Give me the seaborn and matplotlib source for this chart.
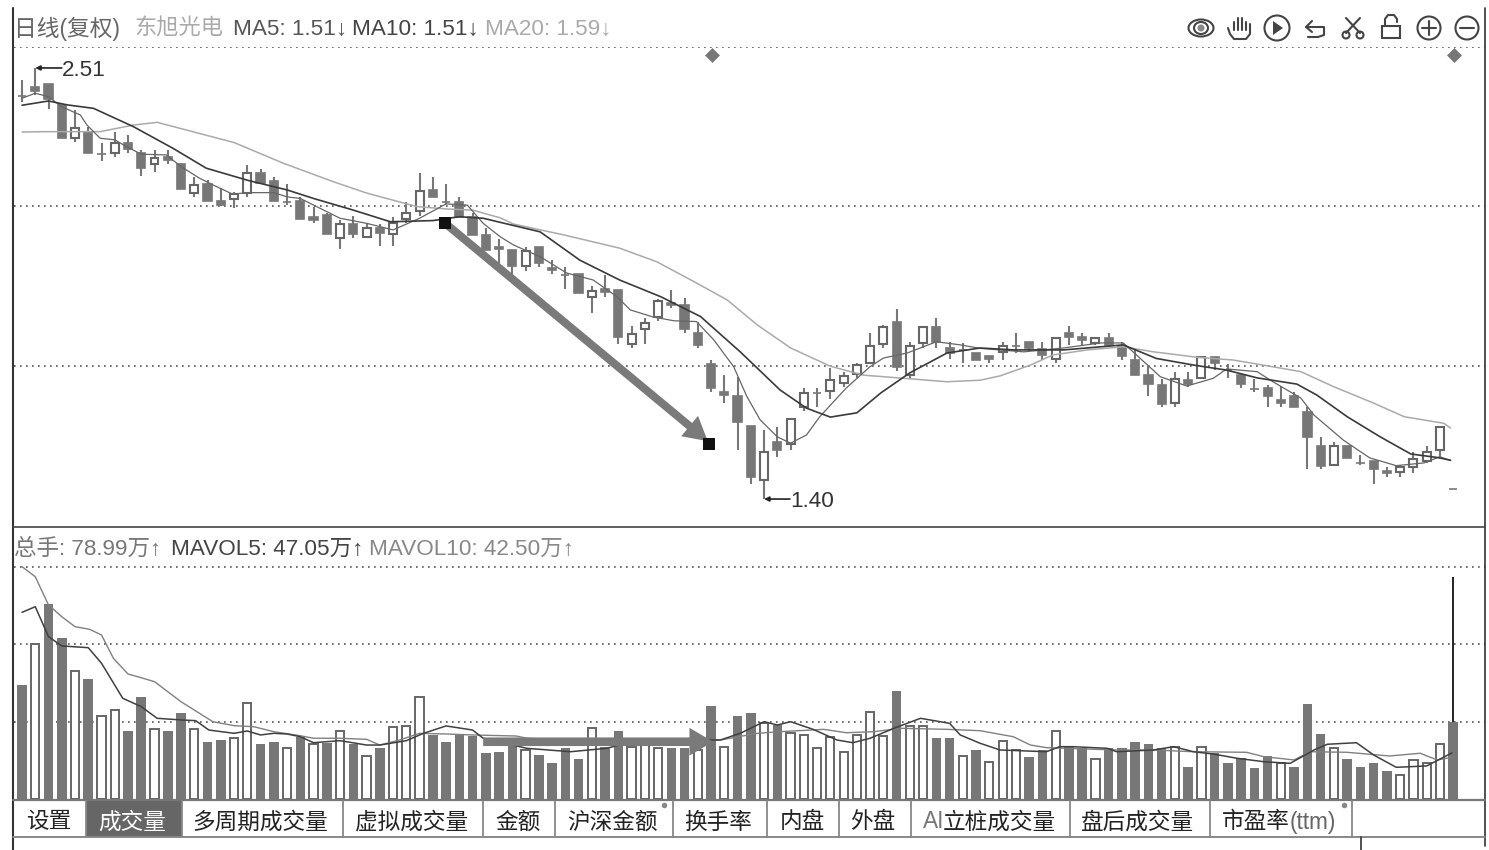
import matplotlib
matplotlib.use("Agg")
import matplotlib.pyplot as plt
from matplotlib.patches import Circle, Ellipse, FancyArrowPatch, Rectangle
import numpy as np
import pandas as pd
import seaborn as sns

# Daily candles, prices in yuan
opens = [2.438,2.462,2.469,2.414,2.330,2.344,2.288,2.292,2.316,2.292,
         2.262,2.282,2.263,2.189,2.211,2.167,2.172,2.189,2.240,2.220,
         2.166,2.167,2.127,2.131,2.073,2.108,2.074,2.097,2.082,2.121,
         2.141,2.196,2.166,2.166,2.127,2.080,2.050,2.041,2.000,2.050,
         1.996,1.976,1.979,1.921,1.940,1.938,1.799,1.839,1.868,1.906,
         1.899,1.827,1.748,1.675,1.665,1.588,1.449,1.548,1.541,1.638,
         1.674,1.679,1.698,1.722,1.751,1.799,1.855,1.719,1.803,1.844,
         1.788,1.784,1.777,1.768,1.779,1.794,1.805,1.786,1.760,1.827,
         1.816,1.801,1.814,1.794,1.758,1.719,1.694,1.648,1.707,1.711,
         1.767,1.732,1.719,1.683,1.686,1.655,1.666,1.625,1.537,1.488,
         1.537,1.494,1.498,1.473,1.470,1.483,1.498,1.526,1.426]
closes = [2.438,2.451,2.430,2.329,2.355,2.290,2.288,2.316,2.301,2.252,
          2.279,2.273,2.198,2.209,2.168,2.158,2.185,2.239,2.215,2.168,
          2.166,2.120,2.118,2.082,2.108,2.082,2.097,2.084,2.112,2.137,
          2.194,2.178,2.166,2.127,2.080,2.041,2.043,2.000,2.039,2.009,
          1.989,1.976,1.930,1.936,1.933,1.818,1.824,1.854,1.910,1.899,
          1.837,1.797,1.686,1.668,1.599,1.458,1.522,1.526,1.605,1.674,
          1.674,1.706,1.718,1.745,1.795,1.844,1.741,1.794,1.844,1.805,
          1.777,1.784,1.758,1.760,1.794,1.794,1.788,1.770,1.815,1.818,
          1.809,1.815,1.797,1.768,1.720,1.696,1.646,1.708,1.696,1.767,
          1.750,1.732,1.696,1.683,1.665,1.648,1.638,1.560,1.486,1.537,
          1.506,1.494,1.477,1.468,1.483,1.503,1.522,1.586,1.426]
highs = [2.479,2.510,2.469,2.414,2.402,2.357,2.316,2.346,2.337,2.299,
         2.299,2.299,2.266,2.230,2.222,2.200,2.191,2.260,2.249,2.230,
         2.211,2.178,2.153,2.136,2.118,2.129,2.108,2.108,2.127,2.166,
         2.240,2.230,2.211,2.177,2.136,2.097,2.069,2.041,2.050,2.050,
         2.015,1.998,1.979,1.949,1.977,1.938,1.846,1.865,1.915,1.938,
         1.918,1.857,1.758,1.719,1.715,1.588,1.578,1.586,1.605,1.685,
         1.685,1.738,1.728,1.750,1.827,1.848,1.889,1.805,1.844,1.865,
         1.805,1.801,1.777,1.768,1.805,1.827,1.805,1.805,1.815,1.846,
         1.827,1.815,1.827,1.805,1.784,1.743,1.708,1.728,1.728,1.767,
         1.767,1.748,1.719,1.708,1.694,1.691,1.676,1.638,1.559,1.548,
         1.537,1.513,1.498,1.483,1.488,1.522,1.537,1.586,1.426]
lows = [2.423,2.440,2.404,2.329,2.320,2.290,2.271,2.282,2.290,2.232,
        2.241,2.263,2.198,2.178,2.168,2.155,2.149,2.178,2.211,2.168,
        2.157,2.120,2.110,2.082,2.043,2.071,2.071,2.052,2.052,2.112,
        2.129,2.178,2.160,2.127,2.080,2.041,2.003,1.977,1.988,1.998,
        1.979,1.940,1.930,1.880,1.921,1.798,1.788,1.798,1.859,1.891,
        1.827,1.788,1.676,1.648,1.526,1.439,1.400,1.507,1.526,1.627,
        1.638,1.657,1.688,1.711,1.750,1.788,1.730,1.711,1.788,1.788,
        1.760,1.750,1.758,1.750,1.758,1.777,1.782,1.758,1.750,1.797,
        1.797,1.797,1.792,1.758,1.720,1.665,1.638,1.638,1.688,1.711,
        1.732,1.711,1.685,1.676,1.638,1.638,1.638,1.477,1.477,1.488,
        1.506,1.488,1.438,1.457,1.457,1.468,1.492,1.509,1.426]

# Traded volume per session, in units of 10,000 lots
volumes = [117.2,159.2,200.8,166.0,132.0,123.1,85.2,91.1,70.0,105.1,
           71.8,70.0,88.0,71.8,58.3,60.4,62.2,98.9,56.3,58.3,
           51.8,63.2,56.0,57.0,69.4,56.3,44.2,52.5,73.5,75.2,
           104.5,65.6,58.3,65.6,64.8,46.7,48.3,57.3,50.1,44.9,
           37.0,52.1,40.8,73.1,53.5,70.0,52.9,60.4,52.1,52.1,
           52.1,50.1,95.5,53.5,85.5,88.0,77.6,75.9,67.3,65.6,
           51.8,63.2,48.3,65.6,89.0,64.5,111.0,75.2,75.2,62.2,
           62.2,44.2,50.1,38.0,59.7,50.1,43.2,50.1,69.4,53.5,
           51.8,40.5,51.8,51.8,58.3,56.3,51.8,53.5,32.8,53.5,
           47.3,37.0,41.5,31.2,44.2,36.3,32.8,97.6,66.3,51.8,
           40.8,32.8,37.0,28.7,24.3,39.8,36.3,56.0,78.99]
# 1 = solid bar, 0 = hollow bar
volume_solid = [1,0,1,1,0,1,0,0,1,1,
                0,1,1,0,1,1,0,0,1,1,
                0,1,0,1,0,1,0,1,0,0,
                0,1,1,1,1,1,1,1,0,1,
                1,1,1,0,1,1,0,0,0,1,
                1,0,1,0,1,1,0,1,0,0,
                0,0,0,0,0,0,1,0,0,1,
                1,0,1,0,0,0,1,1,0,1,
                1,0,1,1,1,1,1,0,1,0,
                1,1,1,1,1,0,1,1,1,0,
                1,1,1,1,0,0,0,0,1]

# Moving averages: session position and level
ma5_pos = [0,1,2,3,4.4,4.9,5.9,7,7.9,9,10.9,12,13.4,14.4,15.9,17,19,20,21,22,24,26,28,30,32,33.6,34.8,36.1,
           37.1,39.1,41.1,43.1,44.9,45.9,47.6,49.2,50.9,52.2,53.7,54.7,55.7,57,58,59.2,60.2,62.2,64,65,66.8,69,70.8,
           72.3,75.6,78.6,81.4,83.1,84.1,85.9,87.9,89.9,90.9,93.2,94.4,96.5,97.5,99.7,101.7,103.7,105.8,107,107.8]
ma5_val = [2.432,2.445,2.436,2.410,2.389,2.363,2.329,2.325,2.307,2.288,2.286,2.256,2.226,2.209,2.185,2.189,2.189,2.178,2.174,2.157,2.123,2.110,2.093,2.123,2.160,2.157,2.110,2.075,
           2.054,2.024,1.982,1.964,1.921,1.887,1.869,1.859,1.857,1.810,1.741,1.664,1.604,1.560,1.544,1.565,1.612,1.686,1.741,1.763,1.776,1.805,1.797,
           1.788,1.779,1.789,1.802,1.802,1.771,1.715,1.691,1.711,1.735,1.728,1.702,1.660,1.616,1.552,1.506,1.486,1.493,1.509,1.499]
ma10_pos = [0,2,3.4,5.4,8.4,11.4,13.9,17,20,22,25,27.8,31,33,34.8,39.1,42.1,45.1,48.2,51.2,54.2,57.2,59.2,61,63,64.8,67,69.8,72.3,
            74.8,78.6,81.4,83.1,85.6,88.4,90.9,93.2,96.2,97.7,100,102.5,104.8,106.8,107.8]
ma10_val = [2.414,2.425,2.415,2.406,2.359,2.303,2.252,2.221,2.196,2.174,2.144,2.114,2.117,2.127,2.123,2.088,2.015,1.964,1.921,1.870,1.779,1.681,1.634,1.611,1.622,1.673,1.725,1.776,1.789,
            1.784,1.784,1.792,1.797,1.762,1.745,1.732,1.712,1.696,1.668,1.612,1.560,1.516,1.507,1.500]
ma20_pos = [0,1.6,5.9,8.4,10.2,16,19.7,23.5,26,29.8,32,34,36.1,37.1,40.9,45.1,47.9,50.7,53.2,55.5,58,61,63.5,66.5,69.8,72.3,
            73.8,76.1,77.8,80.4,83.1,85.4,88.7,91.4,95,96.5,99,102,104.3,107.3,107.8]
ma20_val = [2.345,2.346,2.346,2.363,2.370,2.318,2.265,2.217,2.188,2.153,2.147,2.144,2.124,2.108,2.080,2.046,2.011,1.960,1.913,1.848,1.789,1.742,1.719,1.711,1.702,1.706,
            1.717,1.745,1.771,1.784,1.792,1.779,1.765,1.758,1.737,1.728,1.689,1.647,1.612,1.595,1.583]
mavol5_pos = [0,1,2,3,5,6,7.6,9,10.2,12,13.1,14.1,16,17,18,19,20,21,22,24,26,27,29,30.3,32,34,34.8,
              38.1,41.4,44.1,46.6,49.7,52.7,54.2,56,57,58,59.7,61.5,62.7,64,65.8,67.8,70,70.8,72.3,
              73.8,77.3,78.3,79.3,81.9,82.6,85.4,86.9,88.4,89.9,91.7,93.7,95.7,97.5,98.5,100.7,102,103.7,106,107.9]
mavol5_val = [192.2,198.0,167.1,157.5,155.7,139.6,103.5,94.8,82.8,81.1,80.4,70.7,67.3,69.7,65.6,67.3,66.6,63.8,57.6,59.7,55.2,55.2,59.7,67.3,74.9,70.7,62.2,
              51.8,48.3,51.8,60.4,60.4,60.4,67.3,79.3,75.9,79.3,71.4,60.4,57.6,62.2,72.5,82.8,77.6,65.6,57.0,
              50.1,48.3,53.5,53.5,51.8,48.3,50.1,53.5,48.3,45.9,41.5,38.0,36.3,50.1,56.0,57.6,44.9,32.2,33.6,47.05]
mavol10_pos = [0,1,2,3,4,5.1,6,6.9,8,9,10,11,12,13.2,14.4,16,17.5,19,21,22,24,26,27,28.5,30,32,34,
               37.3,38.1,40.9,52.7,55.5,57.2,60.5,62.2,64.3,66.3,69.8,72.3,
               74.8,76.1,77.3,78.8,82.4,85.4,88.4,92.4,93.7,96,97.2,100,103.2,105.5,106.8,107.9]
mavol10_val = [239.4,229.0,199.8,187.7,177.4,174.7,168.8,144.7,128.5,124.7,120.6,110.3,99.9,89.6,79.3,75.2,74.1,69.0,64.8,62.2,62.2,61.1,55.2,60.4,67.3,66.6,65.6,
               64.5,62.2,60.4,60.4,67.3,69.0,71.4,67.9,69.0,72.5,71.4,70.0,
               63.8,55.2,52.5,51.8,50.1,50.1,48.3,47.7,43.2,39.8,48.3,47.7,43.9,46.7,39.8,42.50]

high_label, low_label = "2.51", "1.40"
tab_labels = ["设置", "成交量", "多周期成交量", "虚拟成交量", "金额", "沪深金额", "换手率", "内盘", "外盘", "盘后成交量"]

W, H = 1489, 850
DARK, EDGE = "#777777", "#666666"
CJK = ["Liberation Sans", "Noto Sans CJK SC", "DejaVu Sans"]

sns.set_theme(style="white")
plt.rcParams["font.family"] = CJK
fig = plt.figure(figsize=(W / 100, H / 100), dpi=100, facecolor="white")


def pane(top, bottom):
    ax = fig.add_axes([14 / W, 1 - bottom / H, (1485 - 14) / W, (bottom - top) / H])
    ax.set_xlim(-0.604, 110.4)
    ax.set_facecolor("none")
    return ax


def finish(ax):
    ax.set_xticks([])
    ax.set_yticks([])
    ax.set_xlabel("")
    ax.set_ylabel("")
    for spine in ax.spines.values():
        spine.set_visible(False)


GRID = dict(color="#555555", lw=1.2, ls=(0, (1, 2.6)), zorder=1)
sessions = np.arange(len(opens))

# Price pane: candles and moving averages
price = pane(47, 527)
price.set_ylim(1.328, 2.564)
for level in (2.564, 2.155, 1.743):
    price.axhline(level, **GRID)
o, c, hi, lo = map(np.array, (opens, closes, highs, lows))
rising = c > o
price.vlines(sessions, lo, hi, color=DARK, lw=1.5, zorder=2)
price.bar(sessions[~rising], (c - o)[~rising], bottom=o[~rising], width=0.62,
          color=DARK, edgecolor=DARK, lw=1.2, zorder=3)
price.bar(sessions[rising], (c - o)[rising], bottom=o[rising], width=0.6,
          color="white", edgecolor=EDGE, lw=1.5, zorder=3)
sns.lineplot(x=ma20_pos, y=ma20_val, color="#aaaaaa", lw=1.1, ax=price, zorder=4, errorbar=None, sort=False)
sns.lineplot(x=ma5_pos, y=ma5_val, color="#666666", lw=0.9, ax=price, zorder=4, errorbar=None, sort=False)
sns.lineplot(x=ma10_pos, y=ma10_val, color="#3a3a3a", lw=1.2, ax=price, zorder=4, errorbar=None, sort=False)
price.add_patch(FancyArrowPatch((31.9, 2.111), (51.75, 1.549), zorder=5, color="#7a7a7a", lw=0, shrinkA=0, shrinkB=0,
                                arrowstyle="simple,tail_width=5.8,head_width=19,head_length=17", mutation_scale=1))
price.scatter([31.9, 51.85], [2.111, 1.542], marker="s", s=72, color="#111111", zorder=6, linewidths=0)
for text, x, y, tx in ((high_label, 1, 2.51, 3.0), (low_label, 56, 1.40, 57.95)):
    price.annotate("", xy=(x, y), xytext=(tx, y), zorder=7,
                   arrowprops=dict(arrowstyle="-|>", color="#222222", lw=1.2, shrinkA=0, shrinkB=0, mutation_scale=7))
    price.text(tx, y - 0.006, text, ha="left", va="center", fontsize=16.2, color="#333333", zorder=7)
finish(price)

# Volume pane: solid and hollow bars with their averages
vol = pane(527, 798.5)
df = pd.DataFrame({"session": sessions, "volume": volumes, "solid": volume_solid})
for level in (239.3, 159.2, 79.0):
    vol.axhline(level, **GRID)
sns.barplot(data=df[df.solid == 0], x="session", y="volume", native_scale=True, width=0.62, color="white",
            saturation=1, edgecolor=EDGE, linewidth=1.4, errorbar=None, ax=vol, zorder=2)
sns.barplot(data=df[df.solid == 1], x="session", y="volume", native_scale=True, width=0.72, color=DARK,
            saturation=1, edgecolor=DARK, linewidth=0, errorbar=None, ax=vol, zorder=2)
sns.lineplot(x=mavol10_pos, y=mavol10_val, color="#808080", lw=1.0, ax=vol, zorder=3, errorbar=None, sort=False)
sns.lineplot(x=mavol5_pos, y=mavol5_val, color="#404040", lw=1.1, ax=vol, zorder=3, errorbar=None, sort=False)
vol.vlines([108], 78.99, 228.7, color="#222222", lw=1.4, zorder=4)
vol.add_patch(FancyArrowPatch((34.8, 58.6), (52.15, 58.6), zorder=5, color="#7a7a7a", lw=0, shrinkA=0, shrinkB=0,
                              arrowstyle="simple,tail_width=6.2,head_width=20,head_length=17", mutation_scale=1))
vol.set_xlim(-0.604, 110.4)
vol.set_ylim(0, 280.3)
finish(vol)

# Window furniture drawn in screen pixels
ui = fig.add_axes([0, 0, 1, 1], zorder=10)
ui.set_xlim(0, W)
ui.set_ylim(H, 0)
ui.axis("off")
ui.plot([13, 13], [8, 850], color="#333333", lw=1.5)
ui.plot([1485, 1485], [8, 846], color="#333333", lw=1.2)
ui.plot([13, 1485], [527, 527], color="#444444", lw=1.2)
ui.plot([13, 1485], [799.5, 799.5], color="#777777", lw=1.6)
ui.plot([13, 1485], [837, 837], color="#888888", lw=1.4)
ui.plot([1361, 1361], [837, 850], color="#333333", lw=1.2)
ui.scatter([712, 1454], [55, 55], marker="D", s=58, color="#777777", linewidths=0)

for text, x, colour, y, size in (
    ("日线(复权)", 14, "#666666", 29, 16.4),
    ("东旭光电", 134, "#aaaaaa", 29, 16),
    ("MA5: 1.51↓", 233, "#555555", 29, 16.2),
    ("MA10: 1.51↓", 352, "#444444", 29, 16.2),
    ("MA20: 1.59↓", 485, "#aaaaaa", 29, 16.2),
    ("总手: 78.99万↑", 14, "#777777", 549, 16.2),
    ("MAVOL5: 47.05万↑", 171, "#444444", 549, 16.2),
    ("MAVOL10: 42.50万↑", 369, "#888888", 549, 16.2),
):
    ui.text(x, y, text, ha="left", va="center", fontsize=size, color=colour)

# Indicator tabs along the bottom
edges = [14, 85.7, 181.7, 343, 483, 555, 672.7, 767, 838.7, 911, 1070, 1210, 1352]
centres = [49, 132, 260, 412, 518, 612, 718, 802, 873, 1138]
for e in edges[1:]:
    ui.plot([e, e], [801, 837], color="#888888", lw=1.3)
ui.add_patch(Rectangle((85.7, 800), 96, 37, color="#666666", lw=0))
for i, (label, x) in enumerate(zip(tab_labels, centres)):
    ui.text(x, 822, label, ha="center", va="center", fontsize=16.3, color="white" if i == 1 else "#222222")
ui.text(923, 822, "AI", ha="left", va="center", fontsize=16.3, color="#777777")
ui.text(943, 822, "立桩成交量", ha="left", va="center", fontsize=16.3, color="#222222")
ui.text(1222, 822, "市盈率", ha="left", va="center", fontsize=16.3, color="#222222")
ui.text(1290, 822, "(ttm)", ha="left", va="center", fontsize=16.3, color="#666666")
ui.scatter([664, 1344], [805, 805], s=16, color="#888888", linewidths=0)

# Toolbar icons
ink = dict(color="#444444", lw=1.5, solid_capstyle="round")
ring = dict(fill=False, ec="#444444", lw=1.5)
ui.add_patch(Ellipse((1201, 28), 25, 17, **ring))
ui.add_patch(Ellipse((1201, 28), 14, 12, **ring))
ui.add_patch(Circle((1201, 28), 3.5, fc="#888888", lw=0))
for x0, top in ((1234, 22), (1238, 18), (1242, 18), (1246, 22)):
    ui.plot([x0, x0], [top, 30], **ink)
ui.plot([1250, 1250, 1246, 1234, 1230, 1228], [24, 34, 39, 39, 34, 28], **ink)
ui.add_patch(Circle((1277, 28), 12.5, **ring))
ui.fill([1273, 1273, 1283], [21, 35, 28], color="#444444", lw=0)
ui.plot([1306, 1313, 1324, 1324, 1318, 1308], [27, 27, 27, 35, 37, 37], **ink)
ui.plot([1312, 1306, 1312], [21, 27, 32], **ink)
ui.plot([1346, 1360], [18, 33], **ink)
ui.plot([1360, 1346], [18, 33], **ink)
ui.add_patch(Circle((1346, 35), 3.5, **ring))
ui.add_patch(Circle((1360, 35), 3.5, **ring))
ui.add_patch(Rectangle((1382, 26), 18, 12, **ring))
ui.plot([1385, 1385, 1388, 1394, 1397, 1397], [26, 19, 15, 15, 19, 22], **ink)
ui.add_patch(Circle((1429, 28), 11.5, **ring))
ui.plot([1422, 1436], [28, 28], **ink)
ui.plot([1429, 1429], [21, 35], **ink)
ui.add_patch(Circle((1467, 28), 11.5, **ring))
ui.plot([1460, 1474], [28, 28], **ink)

fig.savefig("out.png", dpi=100, facecolor="white")
